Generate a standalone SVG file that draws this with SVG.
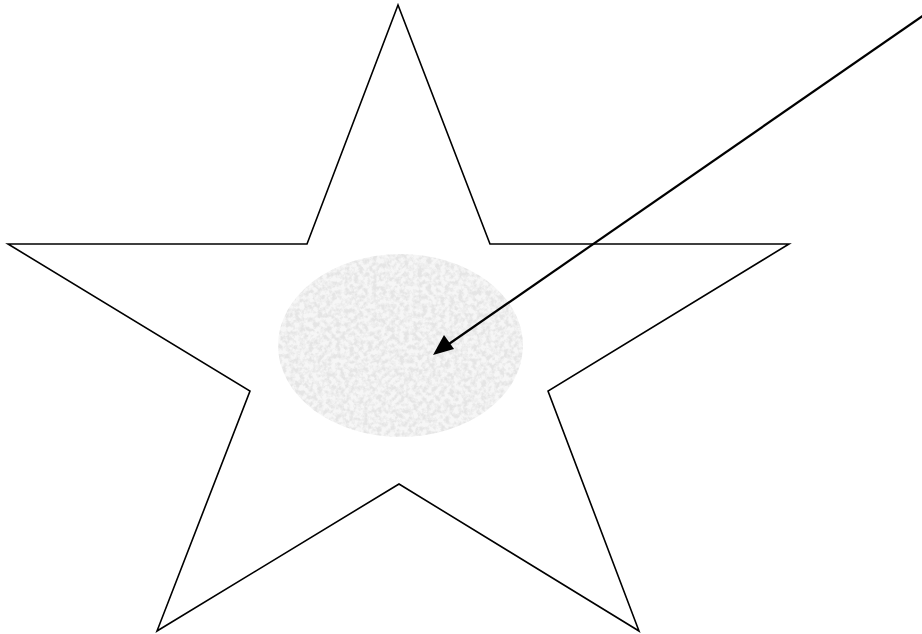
<svg xmlns="http://www.w3.org/2000/svg" width="922" height="634" viewBox="0 0 922 634">
<style>
.outline{fill:#ffffff;stroke:#000000;stroke-width:1.6;stroke-linejoin:miter}
.conn{fill:none;stroke:#000000;stroke-width:2.2}
</style>
<defs>
<filter id="grain" x="0" y="0" width="100%" height="100%">
<feTurbulence type="fractalNoise" baseFrequency="0.22" numOctaves="3" seed="5" result="n"/>
<feColorMatrix in="n" type="matrix" values="0 0 0 0 0.78  0 0 0 0 0.78  0 0 0 0 0.78  0 0 0 -3 1.9" result="g"/>
<feFlood flood-color="#f6f6f6" result="bg"/>
<feComposite in="g" in2="bg" operator="over" result="m"/>
<feComposite in="m" in2="SourceAlpha" operator="in"/>
</filter>
</defs>
<g id="star">
<polygon class="outline" points="398,5 307,244 8,244 250,391 157,631 399,484 639,631 548,391 789,244 490,244"/>
</g>
<g id="ellipse">
<ellipse cx="400.5" cy="345.5" rx="122.5" ry="91.5" fill="#f0f0f0" filter="url(#grain)"/>
</g>
<g id="connectors">
<line class="conn" x1="924" y1="15" x2="446" y2="346"/>
<path d="M433,355 L444,335 L454,349 z" fill="#000000"/>
</g>
</svg>
